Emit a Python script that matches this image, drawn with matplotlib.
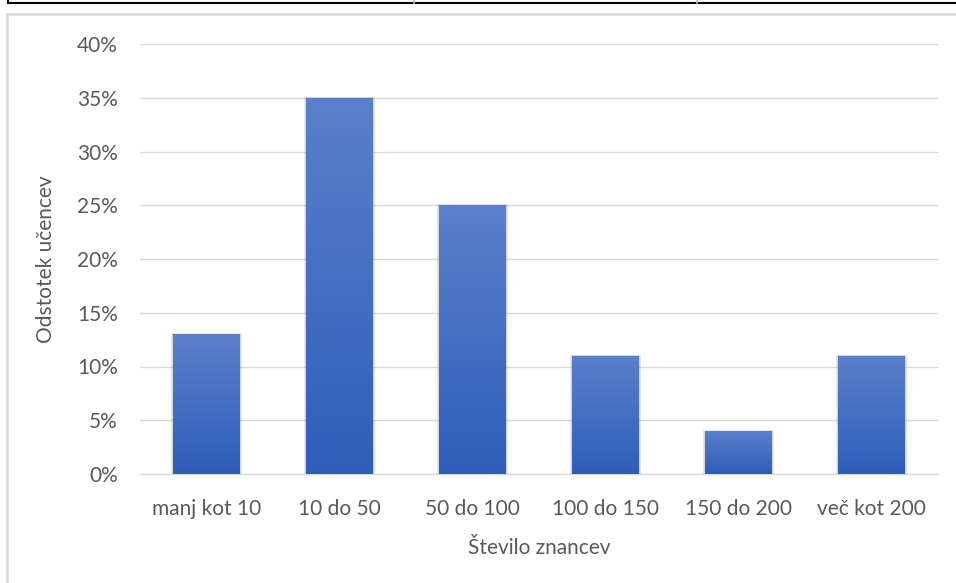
import numpy as np
import matplotlib
matplotlib.use("Agg")
import matplotlib.pyplot as plt
from matplotlib.colors import LinearSegmentedColormap
from matplotlib.lines import Line2D
from matplotlib.patches import Rectangle
from matplotlib.ticker import PercentFormatter

plt.rcParams['font.family'] = ['Lato', 'DejaVu Sans']

categories = ['manj kot 10', '10 do 50', '50 do 100', '100 do 150', '150 do 200', 'več kot 200']
values = [13, 35, 25, 11, 4, 11]
yticks = [0, 5, 10, 15, 20, 25, 30, 35, 40]

txt = '#595959'
fs = 15
W, H = 956, 583
fig = plt.figure(figsize=(W / 100, H / 100), dpi=100)

# frame bits around the chart (from the surrounding document)
fig.add_artist(Line2D([8 / W, 1], [1 - 3 / H, 1 - 3 / H], color='black', lw=1.5))
fig.add_artist(Line2D([8 / W, 8 / W], [1 - 3 / H, 1], color='black', lw=1.5))
for xx in [414, 697]:
    fig.add_artist(Line2D([xx / W, xx / W], [1 - 3 / H, 1], color='#9dc3e6', lw=1.2))
fig.add_artist(Line2D([7 / W, 1], [1 - 14 / H, 1 - 14 / H], color='#d9d9d9', lw=1.8))
fig.add_artist(Line2D([7 / W, 7 / W], [0, 1 - 14 / H], color='#d9d9d9', lw=1.8))

ax = fig.add_axes([140 / W, (H - 474) / H, 798 / W, 430 / H])
x = np.arange(len(categories))
bars = ax.bar(x, values, width=0.5, color='none', zorder=3)

cmap = LinearSegmentedColormap.from_list('g', ['#2e5db9', '#5b80cb'])
grad = np.linspace(0, 1, 256).reshape(-1, 1)
for b in bars:
    x0, w, h = b.get_x(), b.get_width(), b.get_height()
    # soft shadow
    for k, a in zip([0.05, 0.035, 0.02], [0.04, 0.05, 0.07]):
        ax.add_patch(Rectangle((x0 - k * 0.4, -0.15), w + k * 0.8, h + 0.15 + k * 2,
                               color='black', alpha=a, lw=0, zorder=2))
    im = ax.imshow(grad, cmap=cmap, origin='lower', aspect='auto',
                   extent=[x0, x0 + w, 0, h], zorder=3)
    im.set_clip_path(b)

ax.set_xlim(-0.5, len(categories) - 0.5)
ax.set_ylim(0, 40)
ax.set_yticks(yticks)
ax.yaxis.set_major_formatter(PercentFormatter(decimals=0))
ax.set_xticks(x)
ax.set_xticklabels(categories)
ax.grid(axis='y', color='#d9d9d9', lw=1, zorder=0)
for s in ['top', 'right', 'left']:
    ax.spines[s].set_visible(False)
ax.spines['bottom'].set_color('#d9d9d9')
ax.spines['bottom'].set_linewidth(1)
ax.tick_params(length=0, colors=txt, labelsize=fs)
ax.tick_params(axis='y', pad=16)
ax.tick_params(axis='x', pad=18)
ax.set_ylabel('Odstotek učencev', color=txt, fontsize=fs, labelpad=15)
ax.set_xlabel('Število znancev', color=txt, fontsize=fs, labelpad=14)

fig.savefig('out.png', dpi=100)
